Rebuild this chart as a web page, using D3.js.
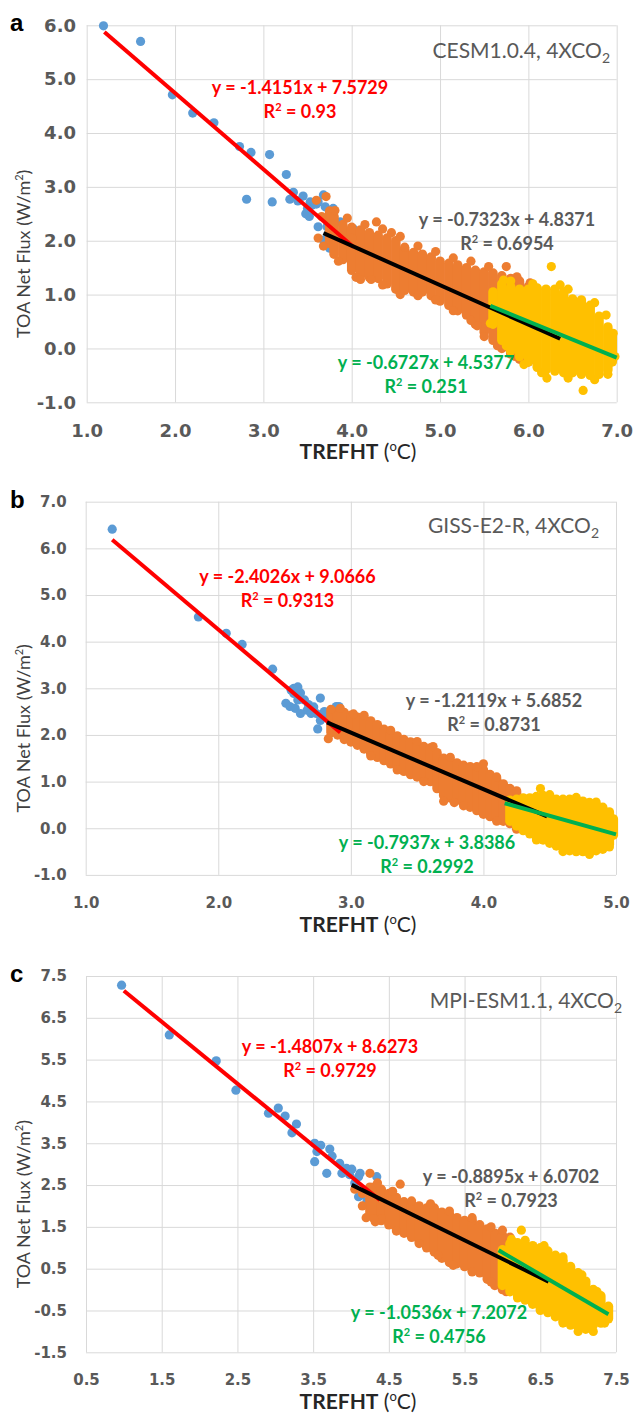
<!DOCTYPE html>
<html>
<head>
<meta charset="utf-8">
<script src="https://cdn.jsdelivr.net/npm/d3@7"></script>
<style>
  body { margin: 0; background: #fff; }
  svg { display: block; }
</style>
</head>
<body>
<script>
// ---------- panel a : CESM1.0.4 ----------
const aXTicks = [1, 2, 3, 4, 5, 6, 7];
const aYTicks = [-1, 0, 1, 2, 3, 4, 5, 6];
const aBlue = [[1.19,5.99],[1.61,5.70],[1.97,4.71],[2.20,4.37],[2.44,4.19],[2.73,3.75],[2.86,3.64],
  [3.07,3.60],[2.81,2.77],[3.10,2.72],[3.26,3.23],[3.34,2.90],[3.30,2.77],[3.39,2.74],[3.45,2.83],
  [3.55,2.66],[3.52,2.45],[3.60,2.68],[3.62,2.26],[3.53,2.72],[3.68,2.85],[3.62,2.72],[3.70,2.63],
  [3.79,2.60],[3.72,2.26],[3.79,2.42],[3.87,2.35],[3.68,2.01],[3.75,1.86],[4.02,2.22],[3.50,2.60],[3.48,2.50]];
// dense clouds: [x, low, high]
const aOrangeBand = [[3.75,1.95,2.55],[3.8,1.75,2.45],[3.9,1.65,2.30],[4.0,1.45,2.25],[4.1,1.35,2.20],
  [4.2,1.32,2.15],[4.3,1.30,2.10],[4.4,1.20,2.05],[4.5,1.10,2.00],[4.6,1.08,1.85],[4.7,1.05,1.78],
  [4.8,1.05,1.75],[4.9,0.98,1.70],[5.0,0.88,1.62],[5.1,0.80,1.58],[5.2,0.70,1.55],[5.3,0.62,1.50],
  [5.4,0.45,1.45],[5.5,0.30,1.42],[5.6,0.15,1.40],[5.7,0.00,1.35],[5.8,-0.10,1.30],[5.9,-0.20,1.25],[6.0,-0.25,1.15]];
const aOrangeDots = [[4.28,2.35],[3.71,2.82],[3.81,2.56],[4.45,2.15],[5.75,1.52],[5.87,1.33],[6.02,1.22],
  [4.05,1.32],[4.22,1.28],[5.42,0.42],[3.68,1.90],[4.00,2.05],[4.60,1.88],
  [3.95,2.42],[4.15,2.30],[4.35,2.22],[4.55,2.08],[4.75,1.90],[4.95,1.80],[5.15,1.68],[5.35,1.62],[5.55,1.52],
  [3.85,1.62],[4.10,1.28],[4.35,1.18],[4.55,1.00],[4.75,0.98],[4.95,0.90],[5.15,0.70],[5.35,0.52],
  [5.50,0.22],[5.65,0.05],[5.85,-0.15],[3.62,2.05],[3.66,2.45],[3.60,2.75]];
const aYellowBand = [[5.6,0.45,1.05],[5.7,0.15,1.20],[5.8,-0.05,1.15],[5.9,-0.15,1.10],[6.0,-0.25,1.10],
  [6.1,-0.35,1.12],[6.2,-0.40,1.10],[6.3,-0.42,1.10],[6.4,-0.45,1.05],[6.5,-0.45,0.92],[6.6,-0.48,0.90],
  [6.7,-0.50,0.80],[6.8,-0.48,0.60],[6.9,-0.40,0.40],[6.95,-0.25,0.25]];
const aYellowDots = [[6.26,1.52],[5.57,0.47],[6.21,-0.55],[6.62,-0.78],[5.72,1.27],[6.96,0.28],[6.98,-0.15],[6.36,1.18],
  [5.80,1.25],[6.05,1.20],[6.45,1.10],[6.75,0.85],[6.88,0.62],[5.75,0.05],[5.95,-0.30],[6.15,-0.45],
  [6.45,-0.55],[6.75,-0.58],[6.90,-0.48]];
const aSlope = [-1.4151, -0.7323, -0.6727];
const aIntercept = [7.5729, 4.8371, 4.5377];
const aR2 = ["0.93", "0.6954", "0.251"];
const aFitX = [[1.2, 4.02], [3.68, 6.36], [5.57, 7.0]];

// ---------- panel b : GISS-E2-R ----------
const bXTicks = [1, 2, 3, 4, 5];
const bYTicks = [-1, 0, 1, 2, 3, 4, 5, 6, 7];
const bBlue = [[1.20,6.41],[1.85,4.53],[2.06,4.18],[2.18,3.94],[2.41,3.41],[2.57,3.00],[2.54,2.61],
  [2.60,2.75],[2.67,2.53],[2.77,2.79],[2.74,2.46],[2.89,2.61],[2.57,2.89],[2.55,2.96],[2.60,3.03],
  [2.51,2.68],[2.58,2.57],[2.65,2.75],[2.70,2.46],[2.77,2.31],[2.75,2.13],[2.83,2.39],[2.91,2.61],
  [2.62,2.46],[2.62,2.90],[2.68,2.65],[2.72,2.60],[2.80,2.50]];
const bOrangeBand = [[2.85,2.05,2.50],[2.90,2.00,2.50],[2.95,1.95,2.48],[3.00,1.85,2.42],[3.05,1.78,2.38],
  [3.10,1.70,2.35],[3.15,1.60,2.30],[3.20,1.52,2.22],[3.25,1.45,2.12],[3.30,1.38,2.05],[3.35,1.30,1.98],
  [3.40,1.22,1.90],[3.45,1.15,1.85],[3.50,1.10,1.80],[3.55,1.05,1.75],[3.60,1.00,1.72],[3.65,0.85,1.62],
  [3.70,0.70,1.50],[3.75,0.65,1.45],[3.80,0.60,1.40],[3.85,0.52,1.35],[3.90,0.45,1.32],[3.95,0.38,1.28],
  [4.00,0.30,1.25],[4.05,0.25,1.15],[4.10,0.20,1.05],[4.15,0.15,0.95],[4.20,0.10,0.85],[4.25,0.02,0.80]];
const bOrangeDots = [[2.83,1.92],[3.62,1.75],[4.00,1.38],[3.70,0.58],[3.78,0.55],[4.25,-0.02],[2.92,2.57],[3.02,2.45],
  [2.85,2.55],[3.10,2.42],[3.30,2.10],[3.50,1.86],[3.75,1.52],[3.95,1.32],[4.10,1.10],
  [2.95,1.90],[3.15,1.55],[3.35,1.25],[3.55,1.00],[3.85,0.48],[4.10,0.15]];
const bYellowBand = [[4.20,0.15,0.60],[4.25,0.05,0.62],[4.30,-0.05,0.65],[4.35,-0.12,0.65],[4.40,-0.20,0.68],
  [4.45,-0.25,0.70],[4.50,-0.32,0.65],[4.55,-0.38,0.62],[4.60,-0.42,0.62],[4.65,-0.48,0.62],[4.70,-0.50,0.60],
  [4.75,-0.50,0.58],[4.80,-0.50,0.55],[4.85,-0.48,0.50],[4.90,-0.45,0.45],[4.95,-0.35,0.35],[4.98,-0.15,0.20]];
const bYellowDots = [[4.43,0.85],[4.50,0.72],[4.70,0.66],[4.85,0.56],[4.40,-0.25],[4.60,-0.50],[4.80,-0.56],[4.95,-0.40]];
const bSlope = [-2.4026, -1.2119, -0.7937];
const bIntercept = [9.0666, 5.6852, 3.8386];
const bR2 = ["0.9313", "0.8731", "0.2992"];
const bFitX = [[1.2, 2.92], [2.82, 4.48], [4.16, 5.0]];

// ---------- panel c : MPI-ESM1.1 ----------
const cXTicks = [0.5, 1.5, 2.5, 3.5, 4.5, 5.5, 6.5, 7.5];
const cYTicks = [-1.5, -0.5, 0.5, 1.5, 2.5, 3.5, 4.5, 5.5, 6.5, 7.5];
const cBlue = [[0.97,7.28],[1.60,6.09],[2.22,5.47],[2.48,4.77],[2.91,4.22],[3.04,4.34],[3.13,4.15],
  [3.28,3.96],[3.22,3.75],[3.52,3.50],[3.55,3.30],[3.72,3.36],[3.75,3.19],[3.52,3.06],[3.68,2.78],
  [3.85,3.02],[3.94,2.90],[4.01,2.88],[3.88,2.78],[4.10,2.70],[4.14,2.26],[4.12,2.78],[4.10,2.22],
  [4.21,2.10],[4.34,2.70],[3.60,3.45],[3.98,2.75],[4.05,2.55]];
const cOrangeBand = [[4.25,1.85,2.45],[4.3,1.75,2.45],[4.4,1.65,2.40],[4.5,1.55,2.30],[4.6,1.45,2.20],
  [4.7,1.35,2.10],[4.8,1.25,2.05],[4.9,1.15,2.00],[5.0,1.00,1.95],[5.1,0.90,1.95],[5.2,0.75,1.85],
  [5.3,0.65,1.80],[5.4,0.62,1.72],[5.5,0.55,1.65],[5.6,0.45,1.65],[5.7,0.40,1.55],[5.8,0.25,1.45],
  [5.9,0.10,1.35],[6.0,0.00,1.30],[6.1,0.00,1.25]];
const cOrangeDots = [[4.25,2.78],[4.65,2.52],[4.20,1.72],[4.32,1.62],[6.00,1.42],[4.05,2.40],[4.40,1.70],
  [4.15,2.00],[4.15,2.30],[4.35,2.55],[4.55,2.35],[4.80,2.12],[5.05,2.05],[5.30,1.88],[5.60,1.72],[5.85,1.50],
  [4.30,1.70],[4.60,1.40],[4.90,1.10],[5.15,0.82],[5.35,0.58],[5.60,0.42],[5.85,0.18],[6.05,-0.05]];
const cYellowBand = [[6.0,0.10,0.95],[6.1,-0.05,1.10],[6.2,-0.15,1.12],[6.3,-0.25,1.10],[6.4,-0.35,1.05],
  [6.5,-0.45,1.00],[6.6,-0.55,0.92],[6.7,-0.65,0.82],[6.8,-0.75,0.70],[6.9,-0.85,0.55],[7.0,-0.90,0.40],
  [7.1,-0.90,0.20],[7.2,-0.85,0.00],[7.3,-0.80,-0.15],[7.4,-0.70,-0.40]];
const cYellowDots = [[6.25,1.42],[7.0,-1.0],[7.2,-1.0],[6.12,1.2],
  [6.30,1.18],[6.55,1.05],[6.80,0.78],[7.05,0.35],[7.25,-0.05],[7.38,-0.50],
  [6.20,-0.20],[6.50,-0.50],[6.80,-0.80],[7.10,-0.95],[7.35,-0.80]];
const cSlope = [-1.4807, -0.8895, -1.0536];
const cIntercept = [8.6273, 6.0702, 7.2072];
const cR2 = ["0.9729", "0.7923", "0.4756"];
const cFitX = [[1.0, 4.38], [4.01, 6.61], [5.95, 7.4]];

const modelNames = ["CESM1.0.4, 4XCO", "GISS-E2-R, 4XCO", "MPI-ESM1.1, 4XCO"];
const panelLetters = ["a", "b", "c"];

// colours
const BLUE = "#5b9bd5", ORANGE = "#ed7d31", YELLOW = "#ffc000";
const fitColors = ["#ff0000", "#000000", "#00b050"];
const eqColors = ["#ff0000", "#595959", "#00b050"];

const svg = d3.select("body").append("svg")
    .attr("width", 634)
    .attr("height", 1416);

function drawPanel(p) {
  var x = d3.scaleLinear().domain(p.xDomain).range([p.left, p.right]);
  var y = d3.scaleLinear().domain(p.yDomain).range([p.bottom, p.top]);
  var g = svg.append("g");

  // y axis + horizontal gridlines
  var ya = g.append("g")
      .attr("transform", "translate(" + p.left + ",0)")
      .call(d3.axisLeft(y).tickValues(p.yTicks).tickFormat(d => d.toFixed(1))
        .tickSize(-(p.right - p.left)).tickPadding(p.yPad));
  // x axis + vertical gridlines
  var xa = g.append("g")
      .attr("transform", "translate(0," + p.bottom + ")")
      .call(d3.axisBottom(x).tickValues(p.xTicks).tickFormat(d => d.toFixed(1))
        .tickSize(-(p.bottom - p.top)).tickPadding(p.xPad));
  [ya, xa].forEach(a => {
    a.select(".domain").remove();
    a.selectAll(".tick line").attr("stroke", "#d9d9d9").attr("stroke-width", 1);
    a.selectAll(".tick text")
      .attr("fill", "#595959")
      .attr("font-family", "DejaVu Sans, sans-serif")
      .attr("font-weight", "bold")
      .attr("font-size", p.tickSize);
  });

  function dots(data, color) {
    g.append("g").selectAll("circle").data(data).join("circle")
      .attr("cx", d => x(d[0])).attr("cy", d => y(d[1]))
      .attr("r", 4.6).attr("fill", color);
  }
  function band(data, color, w) {
    g.append("g").selectAll("line").data(data).join("line")
      .attr("x1", d => x(d[0])).attr("x2", d => x(d[0]))
      .attr("y1", d => y(d[1])).attr("y2", d => y(d[2]))
      .attr("stroke", color).attr("stroke-width", w)
      .attr("stroke-linecap", "round");
  }

  dots(p.blue, BLUE);
  band(p.orangeBand, ORANGE, p.bandW);
  dots(p.orangeDots, ORANGE);
  band(p.yellowBand, YELLOW, p.bandW);
  dots(p.yellowDots, YELLOW);

  // trend lines from the printed equations
  p.slope.forEach((s, i) => {
    var xs = p.fitX[i];
    g.append("line")
      .attr("x1", x(xs[0])).attr("y1", y(s * xs[0] + p.intercept[i]))
      .attr("x2", x(xs[1])).attr("y2", y(s * xs[1] + p.intercept[i]))
      .attr("stroke", fitColors[i]).attr("stroke-width", 4);
  });

  // equations
  p.slope.forEach((s, i) => {
    var pos = p.eqPos[i];
    g.append("text")
      .attr("x", pos[0]).attr("y", pos[1])
      .attr("text-anchor", "middle")
      .attr("font-family", "Lato, sans-serif").attr("font-weight", "bold")
      .attr("font-size", 18).attr("fill", eqColors[i])
      .text("y = " + s + "x + " + p.intercept[i]);
    var t = g.append("text")
      .attr("x", pos[0]).attr("y", pos[1] + 24)
      .attr("text-anchor", "middle")
      .attr("font-family", "Lato, sans-serif").attr("font-weight", "bold")
      .attr("font-size", 18).attr("fill", eqColors[i]);
    t.append("tspan").text("R");
    t.append("tspan").attr("dy", -7).attr("font-size", 11).text("2");
    t.append("tspan").attr("dy", 7).text(" = " + p.r2[i]);
  });

  // model name
  var tt = g.append("text")
    .attr("x", p.titleX).attr("y", p.titleY)
    .attr("text-anchor", "end")
    .attr("font-family", "Lato, sans-serif").attr("font-size", 21)
    .attr("fill", "#595959");
  tt.append("tspan").text(p.name);
  tt.append("tspan").attr("dy", 5).attr("font-size", 14).text("2");

  // panel letter
  g.append("text")
    .attr("x", 10).attr("y", p.top + 6)
    .attr("font-family", "Liberation Sans, Arial, sans-serif").attr("font-weight", "bold")
    .attr("font-size", 24).attr("fill", "#000")
    .text(p.letter);

  // y axis title
  var yt = g.append("text")
    .attr("transform", "translate(30," + ((p.top + p.bottom) / 2 + 40) + ") rotate(-90)")
    .attr("text-anchor", "middle")
    .attr("font-family", "Lato, sans-serif").attr("font-size", 18)
    .attr("fill", "#404040");
  yt.append("tspan").text("TOA Net Flux (W/m");
  yt.append("tspan").attr("dy", -7).attr("font-size", 11).text("2");
  yt.append("tspan").attr("dy", 7).text(")");

  // x axis title
  var xt = g.append("text")
    .attr("x", 358).attr("y", p.bottom + 57)
    .attr("text-anchor", "middle")
    .attr("font-family", "Lato, sans-serif").attr("font-size", 21)
    .attr("fill", "#262626");
  xt.append("tspan").attr("font-weight", "bold").text("TREFHT");
  xt.append("tspan").text(" (");
  xt.append("tspan").attr("dy", -8).attr("font-size", 13).text("o");
  xt.append("tspan").attr("dy", 8).text("C)");
}

drawPanel({
  letter: panelLetters[0], name: modelNames[0],
  xDomain: [1, 7], yDomain: [-1, 6], xTicks: aXTicks, yTicks: aYTicks,
  left: 86.7, right: 616.7, top: 25.3, bottom: 402.3,
  yPad: 10.7, xPad: 22, tickSize: 18, bandW: 9.5,
  blue: aBlue, orangeBand: aOrangeBand, orangeDots: aOrangeDots,
  yellowBand: aYellowBand, yellowDots: aYellowDots,
  slope: aSlope, intercept: aIntercept, r2: aR2, fitX: aFitX,
  eqPos: [[300, 94], [507, 226], [426, 369]],
  titleX: 610, titleY: 58
});

drawPanel({
  letter: panelLetters[1], name: modelNames[1],
  xDomain: [1, 5], yDomain: [-1, 7], xTicks: bXTicks, yTicks: bYTicks,
  left: 85.7, right: 616, top: 501.7, bottom: 874.9,
  yPad: 19, xPad: 22, tickSize: 15, bandW: 9.5,
  blue: bBlue, orangeBand: bOrangeBand, orangeDots: bOrangeDots,
  yellowBand: bYellowBand, yellowDots: bYellowDots,
  slope: bSlope, intercept: bIntercept, r2: bR2, fitX: bFitX,
  eqPos: [[287.5, 583], [494, 707], [427, 849]],
  titleX: 599, titleY: 533
});

drawPanel({
  letter: panelLetters[2], name: modelNames[2],
  xDomain: [0.5, 7.5], yDomain: [-1.5, 7.5], xTicks: cXTicks, yTicks: cYTicks,
  left: 86, right: 616, top: 976, bottom: 1352.3,
  yPad: 19, xPad: 22, tickSize: 15, bandW: 9.5,
  blue: cBlue, orangeBand: cOrangeBand, orangeDots: cOrangeDots,
  yellowBand: cYellowBand, yellowDots: cYellowDots,
  slope: cSlope, intercept: cIntercept, r2: cR2, fitX: cFitX,
  eqPos: [[330, 1053], [511, 1183], [439, 1319]],
  titleX: 622, titleY: 1008
});
</script>
</body>
</html>
